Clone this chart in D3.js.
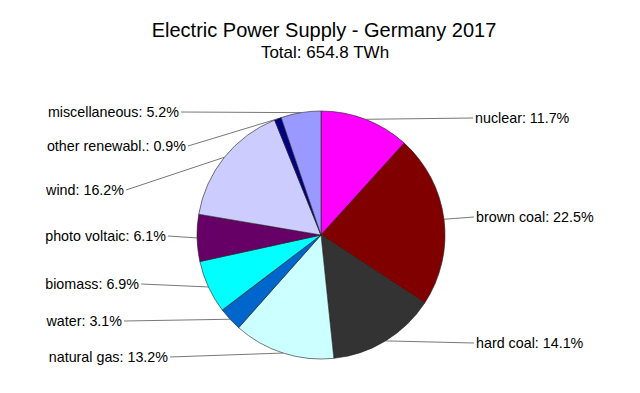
<!DOCTYPE html>
<html>
<head>
<meta charset="utf-8">
<script src="https://cdn.jsdelivr.net/npm/d3@7"></script>
<style>
  body { margin: 0; background: #fff; }
  text { font-family: "Liberation Sans", Arial, sans-serif; fill: #000; }
</style>
</head>
<body>
<div id="chart"></div>
<script>
// Data
const sources = ["nuclear", "brown coal", "hard coal", "natural gas", "water", "biomass",
  "photo voltaic", "wind", "other renewabl.", "miscellaneous"];
const shares = [11.7, 22.5, 14.1, 13.2, 3.1, 6.9, 6.1, 16.2, 0.9, 5.2];
const colors = ["#ff00ff", "#800000", "#333333", "#ccffff", "#0066cc", "#00ffff",
  "#660066", "#ccccff", "#000080", "#9999ff"];

// label layout: [x, y] where the leader line meets the text
const labelAt = [[473, 118], [474, 217], [474, 343], [170, 357], [124, 321], [141, 284],
  [168, 236], [126, 190], [188, 146], [181, 112]];

const width = 640, height = 393;
const cx = 321, cy = 235, radius = 124;

const svg = d3.select("#chart")
  .append("svg")
  .attr("width", width)
  .attr("height", height);

// Title
svg.append("text")
  .attr("x", 324)
  .attr("y", 37)
  .attr("text-anchor", "middle")
  .style("font-size", "20px")
  .text("Electric Power Supply - Germany 2017");

svg.append("text")
  .attr("x", 325)
  .attr("y", 58)
  .attr("text-anchor", "middle")
  .style("font-size", "17px")
  .text("Total: 654.8 TWh");

// Pie
const pie = d3.pie().sort(null).value(d => d);
const arcs = pie(shares);
const arc = d3.arc().innerRadius(0).outerRadius(radius);

const g = svg.append("g").attr("transform", `translate(${cx},${cy})`);

g.selectAll("path")
  .data(arcs)
  .enter()
  .append("path")
  .attr("d", arc)
  .attr("fill", (d, i) => colors[i])
  .attr("stroke", "#222")
  .attr("stroke-width", 0.6);

// Leader lines
const edge = d => {
  const a = (d.startAngle + d.endAngle) / 2;
  return [cx + radius * Math.sin(a), cy - radius * Math.cos(a)];
};

svg.selectAll("line.leader")
  .data(arcs)
  .enter()
  .append("line")
  .attr("class", "leader")
  .attr("x1", d => edge(d)[0])
  .attr("y1", d => edge(d)[1])
  .attr("x2", (d, i) => labelAt[i][0])
  .attr("y2", (d, i) => labelAt[i][1])
  .attr("stroke", "#555")
  .attr("stroke-width", 0.8);

// Labels
svg.selectAll("text.label")
  .data(arcs)
  .enter()
  .append("text")
  .attr("class", "label")
  .attr("x", (d, i) => labelAt[i][0] + (labelAt[i][0] > cx ? 2 : -2))
  .attr("y", (d, i) => labelAt[i][1])
  .attr("dy", "0.35em")
  .attr("text-anchor", (d, i) => labelAt[i][0] > cx ? "start" : "end")
  .style("font-size", "14.3px")
  .text((d, i) => `${sources[i]}: ${shares[i].toFixed(1)}%`);
</script>
</body>
</html>
